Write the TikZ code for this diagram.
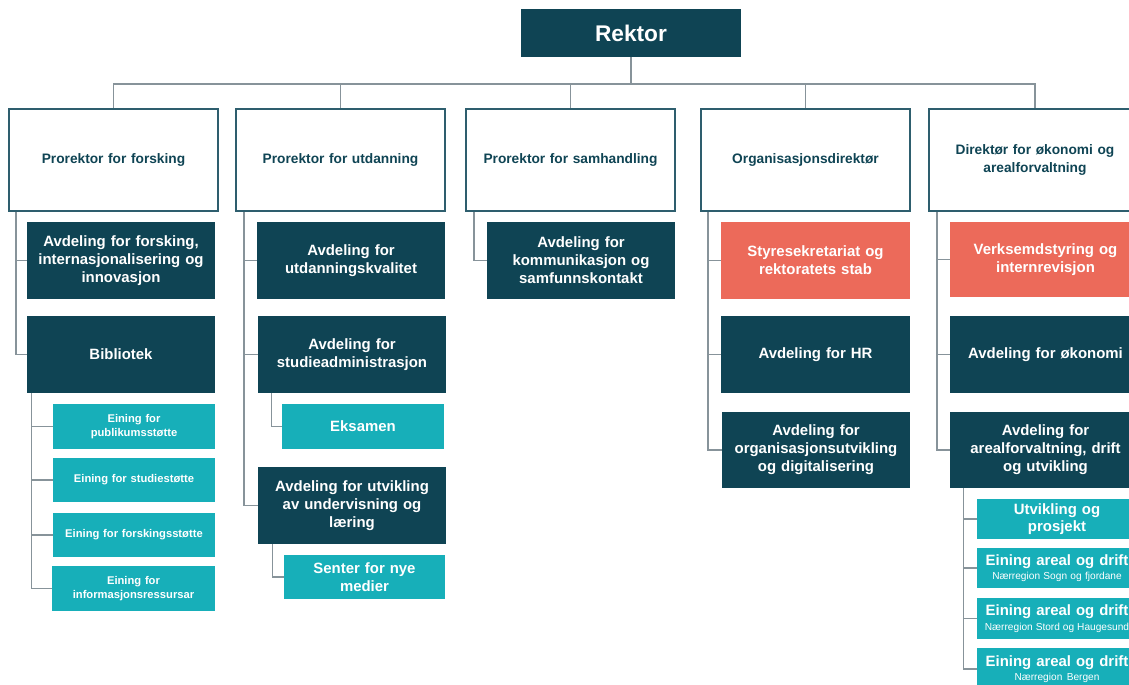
\documentclass[tikz,border=0pt]{standalone}
\usepackage{fontspec}
\setmainfont{Liberation Sans}
\usetikzlibrary{calc}
\definecolor{navy}{HTML}{0F4454}
\definecolor{salmon}{HTML}{EC6A5A}
\definecolor{teal}{HTML}{17AFB9}
\definecolor{hdrline}{HTML}{2E5E6E}
\definecolor{conncol}{HTML}{87939A}
\newcommand\orgbox[7]{%
 \pgfmathsetmacro\obw{(#5-#3)*0.75}%
 \pgfmathsetmacro\obh{(#6-#4)*0.75}%
 \pgfmathsetmacro\obt{(#5-#3-8)*0.75}%
 \pgfmathsetmacro\obx{(#3+#5)/2}%
 \pgfmathsetmacro\oby{(#4+#6)/2}%
 \node[#2, minimum width=\obw pt, minimum height=\obh pt, text width=\obt pt] (#1) at (\obx,\oby) {#7};}
\tikzset{
 base/.style={rectangle, inner sep=0pt, align=center, font=\bfseries},
 topbox/.style={base, fill=navy, text=white, font=\fontsize{17}{20}\selectfont\bfseries},
 headbox/.style={base, draw=hdrline, line width=1.5pt, fill=white, text=navy, font=\fontsize{10.3}{13.5}\selectfont\bfseries},
 darkbox/.style={base, fill=navy, text=white, font=\fontsize{11.2}{13.5}\selectfont\bfseries},
 redbox/.style={base, fill=salmon, text=white, font=\fontsize{11.2}{13.5}\selectfont\bfseries},
 smallbox/.style={base, fill=teal, text=white, font=\fontsize{8.4}{10.5}\selectfont\bfseries},
 tealbox/.style={base, fill=teal, text=white, font=\fontsize{11.2}{13}\selectfont\bfseries},
 subbox/.style={base, fill=teal, text=white, font=\fontsize{11.2}{12}\selectfont\bfseries},
 conn/.style={draw=conncol, line width=1.1pt},
}
\newcommand\subline[1]{\\[-1pt]{\fontsize{7.6}{8}\selectfont\mdseries\spaceskip=0pt\relax\xspaceskip=0pt\relax #1}}
\begin{document}
\begin{tikzpicture}[x=0.75pt,y=-0.75pt]
\useasboundingbox (0,0) rectangle (1129,685);
\clip (0,0) rectangle (1129,685);
% top
\orgbox{rektor}{topbox}{521}{9}{741}{57}{Rektor}
% headers
\orgbox{h1}{headbox}{9}{109}{218}{211}{Prorektor for forsking}
\orgbox{h2}{headbox}{236}{109}{445}{211}{Prorektor for utdanning}
\orgbox{h3}{headbox}{466}{109}{675}{211}{Prorektor for samhandling}
\orgbox{h4}{headbox}{701}{109}{910}{211}{Organisasjonsdirektør}
\orgbox{h5}{headbox}{929}{109}{1141}{211}{Direktør for økonomi og\\ arealforvaltning}
% row A
\orgbox{a1}{darkbox}{27}{222}{215}{299}{Avdeling for forsking,\\ internasjonalisering og\\ innovasjon}
\orgbox{a2}{darkbox}{257}{222}{445}{299}{Avdeling for\\ utdanningskvalitet}
\orgbox{a3}{darkbox}{487}{222}{675}{299}{Avdeling for\\ kommunikasjon og\\ samfunnskontakt}
\orgbox{a4}{redbox}{721}{222}{910}{299}{Styresekretariat og\\ rektoratets stab}
\orgbox{a5}{redbox}{950}{222}{1141}{297}{Verksemdstyring og\\ internrevisjon}
% row B
\orgbox{b1}{darkbox}{27}{316}{215}{393}{Bibliotek}
\orgbox{b2}{darkbox}{258}{316}{446}{393}{Avdeling for\\ studieadministrasjon}
\orgbox{b4}{darkbox}{721}{316}{910}{393}{Avdeling for HR}
\orgbox{b5}{darkbox}{950}{316}{1141}{393}{Avdeling for økonomi}
% row C
\orgbox{c4}{darkbox}{722}{412}{910}{488}{Avdeling for\\ organisasjonsutvikling\\ og digitalisering}
\orgbox{c5}{darkbox}{950}{412}{1141}{488}{Avdeling for\\ arealforvaltning, drift\\ og utvikling}
% column 2 lower
\orgbox{eks}{tealbox}{282}{404}{444}{449}{Eksamen}
\orgbox{u1}{darkbox}{258}{467}{446}{544}{Avdeling for utvikling\\ av undervisning og\\ læring}
\orgbox{snm}{tealbox}{284}{555}{445}{599}{Senter for nye\\ medier}
% library units
\orgbox{t1}{smallbox}{53}{404}{215}{449}{Eining for\\ publikumsstøtte}
\orgbox{t2}{smallbox}{53}{458}{215}{502}{Eining for studiestøtte}
\orgbox{t3}{smallbox}{53}{513}{215}{557}{Eining for forskingsstøtte}
\orgbox{t4}{smallbox}{52}{566}{215}{611}{Eining for\\ informasjonsressursar}
% column 5 units
\orgbox{v1}{tealbox}{977}{499}{1137}{539}{Utvikling og\\ prosjekt}
\orgbox{v2}{subbox}{977}{548}{1137}{588}{Eining areal og drift\subline{Nærregion Sogn og fjordane}}
\orgbox{v3}{subbox}{977}{598}{1137}{639}{Eining areal og drift\subline{Nærregion Stord og Haugesund}}
\orgbox{v4}{subbox}{977}{648}{1137}{690}{Eining areal og drift\subline{Nærregion Bergen}}
% top connectors
\coordinate (bus) at (631,84);
\draw[conn] (rektor.south) -- (bus);
\foreach \h in {h1,h2,h3,h4,h5} {\draw[conn] (\h.north) |- (bus);}
% column spines
\draw[conn] ($(h1.south west)+(8,0)$) |- (a1.west);
\draw[conn] ($(h1.south west)+(8,0)$) |- (b1.west);
\draw[conn] ($(h2.south west)+(9,0)$) |- (a2.west);
\draw[conn] ($(h2.south west)+(9,0)$) |- (b2.west);
\draw[conn] ($(h2.south west)+(9,0)$) |- (u1.west);
\draw[conn] ($(h3.south west)+(9,0)$) |- (a3.west);
\draw[conn] ($(h4.south west)+(8,0)$) |- (a4.west);
\draw[conn] ($(h4.south west)+(8,0)$) |- (b4.west);
\draw[conn] ($(h4.south west)+(8,0)$) |- (c4.west);
\draw[conn] ($(h5.south west)+(9,0)$) |- (a5.west);
\draw[conn] ($(h5.south west)+(9,0)$) |- (b5.west);
\draw[conn] ($(h5.south west)+(9,0)$) |- (c5.west);
% sub spines
\foreach \t in {t1,t2,t3,t4} {\draw[conn] ($(b1.south west)+(5,0)$) |- (\t.west);}
\draw[conn] ($(b2.south west)+(14,0)$) |- (eks.west);
\draw[conn] ($(u1.south west)+(15,0)$) |- (snm.west);
\foreach \v in {v1,v2,v3,v4} {\draw[conn] ($(c5.south west)+(14,0)$) |- (\v.west);}
\end{tikzpicture}
\end{document}
